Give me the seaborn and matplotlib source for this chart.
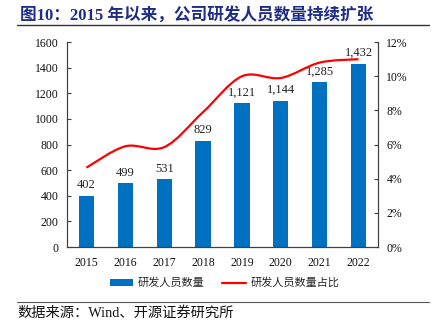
import numpy as np
import pandas as pd
import matplotlib
matplotlib.use("Agg")
import matplotlib.pyplot as plt
import seaborn as sns
from matplotlib.path import Path
from matplotlib.patches import PathPatch
from matplotlib.lines import Line2D
from matplotlib.patches import Patch
from matplotlib.ticker import FixedLocator, FuncFormatter

years = ["2015", "2016", "2017", "2018", "2019", "2020", "2021", "2022"]
staff = [402, 499, 531, 829, 1121, 1144, 1285, 1432]
ratio = [4.65, 5.9, 5.85, 7.9, 10.0, 9.9, 10.8, 11.0]

title = "图10：2015 年以来，公司研发人员数量持续扩张"
source = "数据来源：Wind、开源证券研究所"
bar_label = "研发人员数量"
line_label = "研发人员数量占比"

sns.set_theme(style="white")
plt.rcParams["font.family"] = ["Liberation Serif", "Noto Sans CJK SC", "DejaVu Sans"]

bar_color = "#0070C0"
line_color = "#FF0000"

fig = plt.figure(figsize=(4.32, 3.29), dpi=100)
ax = fig.add_axes([0.155, 0.249, 0.72, 0.623])

df = pd.DataFrame({"year": years, "staff": staff})
sns.barplot(data=df, x="year", y="staff", color=bar_color, width=0.39,
            saturation=1, ax=ax, edgecolor="none")
ax.set_ylim(0, 1600)
ax.set_xlim(-0.5, len(years) - 0.5)
ax.set_yticks(range(0, 1601, 200))
ax.set_xlabel("")
ax.set_ylabel("")

for i, v in enumerate(staff):
    ax.text(i, v + 35, f"{v:,}", ha="center", va="bottom", fontsize=9, color="#222222")

ax2 = ax.twinx()
ax2.set_ylim(0, 12)
ax2.set_yticks(range(0, 13, 2))
ax2.yaxis.set_major_formatter(FuncFormatter(lambda v, p: f"{int(v)}%"))

# smooth curve through the data points (Catmull-Rom as cubic Bezier)
x = np.arange(len(ratio), dtype=float)
y = np.array(ratio, dtype=float)
verts = [(x[0], y[0])]
codes = [Path.MOVETO]
n = len(x)
for i in range(n - 1):
    x0, y0 = (x[i - 1], y[i - 1]) if i > 0 else (x[i], y[i])
    x3, y3 = (x[i + 2], y[i + 2]) if i + 2 < n else (x[i + 1], y[i + 1])
    c1 = (x[i] + (x[i + 1] - x0) / 6, y[i] + (y[i + 1] - y0) / 6)
    c2 = (x[i + 1] - (x3 - x[i]) / 6, y[i + 1] - (y3 - y[i]) / 6)
    verts += [c1, c2, (x[i + 1], y[i + 1])]
    codes += [Path.CURVE4] * 3
patch = PathPatch(Path(verts, codes), facecolor="none", edgecolor=line_color, lw=1.6,
                  transform=ax2.transData)
ax2.add_patch(patch)

spine_color = "#404040"
for a in (ax, ax2):
    for s in ["left", "right", "bottom"]:
        a.spines[s].set_color(spine_color)
        a.spines[s].set_linewidth(0.8)
    a.spines["top"].set_visible(False)
    a.tick_params(axis="y", direction="in", length=3, width=0.8, color=spine_color,
                  labelsize=8.5, labelcolor="#111111", pad=6)
    a.grid(False)

ax.tick_params(axis="x", which="major", length=0, labelsize=8.5, labelcolor="#111111", pad=7)
ax.xaxis.set_minor_locator(FixedLocator(np.arange(-0.5, len(years), 1.0)))
ax.tick_params(axis="x", which="minor", direction="in", length=3, width=0.8, color=spine_color)

handles = [Patch(facecolor=bar_color, edgecolor="none"),
           Line2D([0], [0], color=line_color, lw=1.6)]
fig.legend(handles, [bar_label, line_label], loc="center", bbox_to_anchor=(0.52, 0.14),
           ncol=2, frameon=False, fontsize=8, handlelength=2.1, handleheight=0.6,
           columnspacing=1.6, handletextpad=0.4)

fig.text(0.046, 0.955, title, fontsize=12, fontweight="bold", color="#1F2D86",
         ha="left", va="center")
fig.add_artist(Line2D([0.04, 0.993], [0.924, 0.924], color="#333333", lw=1.0,
                      transform=fig.transFigure))
fig.add_artist(Line2D([0.04, 0.993], [0.081, 0.081], color="#555555", lw=0.8,
                      transform=fig.transFigure))
fig.text(0.04, 0.048, source, fontsize=10.3, color="#111111", ha="left", va="center")

fig.savefig("out.png", dpi=100)
